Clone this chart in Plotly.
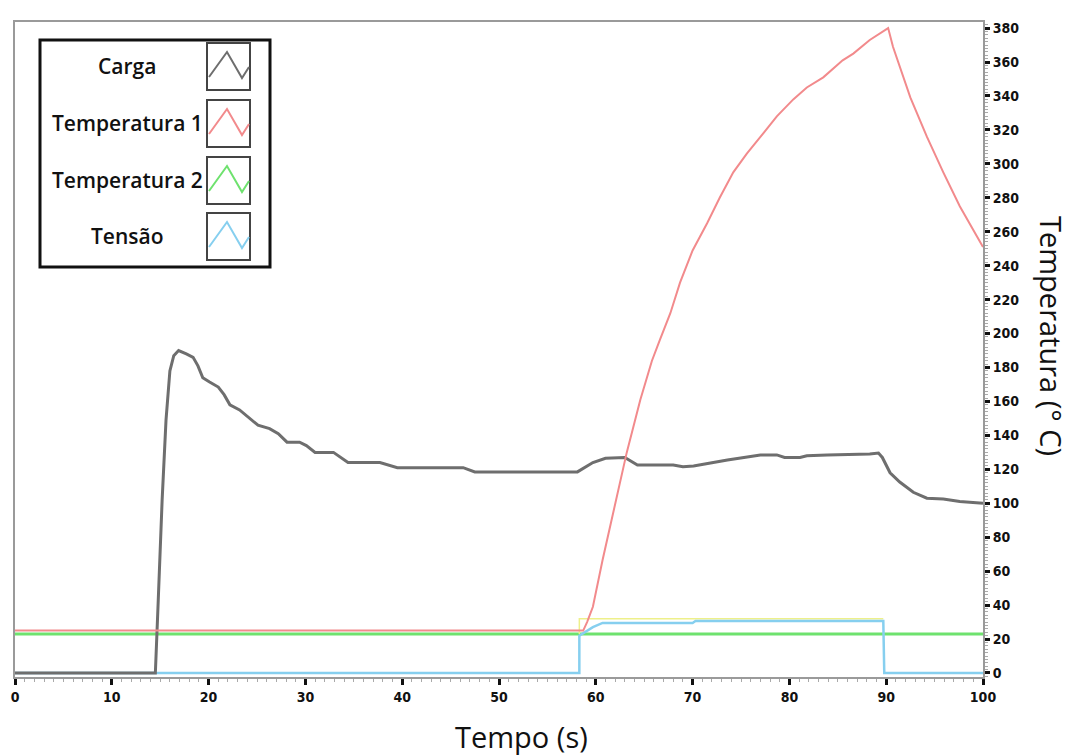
import plotly.graph_objects as go

# ---------------- data ----------------
series_names = ["Carga", "Temperatura 1", "Temperatura 2", "Tensão"]

t_carga = [0, 14.5, 14.8, 15.2, 15.6, 16.0, 16.4, 16.9, 17.7, 18.4, 18.9, 19.4, 20.1, 21.0, 21.6,
           22.2, 23.2, 24.3, 25.1, 26.3, 27.2, 28.1, 29.4, 30.1, 31.0, 32.9, 34.4, 37.7, 39.5,
           46.3, 47.5, 58.1, 59.7, 61.0, 63.0, 64.3, 68.0, 69.0, 70.1, 73.6, 77.0, 78.7, 79.5,
           81.1, 81.8, 83.9, 88.3, 89.2, 89.6, 90.4, 91.4, 92.8, 94.2, 95.9, 97.6, 100]
v_carga = [0, 0, 43, 102, 149, 178, 187, 190, 188, 186, 181, 174, 171.5, 168.5, 164,
           158, 155, 150, 146, 144, 141, 136, 136, 134, 130, 130, 124, 124, 121,
           121, 118.5, 118.5, 124, 126.5, 127, 122.5, 122.5, 121.5, 122, 125.5, 128.5, 128.5, 127,
           127, 128, 128.5, 129, 129.6, 127, 118, 112.5, 106.5, 103, 102.5, 101, 100]

t_temp1 = [0, 58.7, 59.1, 59.7, 60.7, 61.8, 63.2, 64.6, 65.8, 66.6, 67.7, 68.7, 70.0, 71.5, 72.8,
           74.2, 75.6, 77.3, 78.7, 80.4, 81.8, 83.5, 85.5, 86.6, 88.3, 90.2, 90.7, 92.5, 94.2,
           95.9, 97.6, 100]
v_temp1 = [25, 25, 30, 39, 66.6, 94, 130, 161, 184, 196, 212, 230, 249, 265, 280,
           295, 306, 318, 328, 338, 345, 351, 361, 365, 373, 380, 369, 339, 316,
           295, 275, 251]

t_temp2 = [0, 100]
v_temp2 = [23, 23]

t_tensao = [0, 58.3, 58.3, 58.6, 59.7, 60.7, 70.0, 70.3, 89.7, 89.8, 100]
v_tensao = [0, 0, 22, 23, 27, 29.5, 29.5, 30.6, 30.6, 0, 0]

# faint yellow trace visible just above Tensão in the reference
t_extra = [58.3, 58.3, 89.7]
v_extra = [23, 32, 32]

x_ticks = [0, 10, 20, 30, 40, 50, 60, 70, 80, 90, 100]
y_ticks = list(range(0, 381, 20))

colors = ["#6e6e6e", "#f28a8c", "#6ee26e", "#86cfef"]

# ---------------- layout geometry ----------------
W, H = 1071, 755
L, R, T, B = 15, 88, 22, 78
PW, PH = W - L - R, H - T - B


def px(x):
    return (x - L) / PW


def py(y):
    return (H - B - y) / PH


fig = go.Figure()

# draw order: green, extra, blue, carga, red
fig.add_trace(go.Scatter(x=t_temp2, y=v_temp2, mode="lines", name=series_names[2],
                         line=dict(color=colors[2], width=3), showlegend=False))
fig.add_trace(go.Scatter(x=t_extra, y=v_extra, mode="lines", name="",
                         line=dict(color="#eef08a", width=1.5), showlegend=False))
fig.add_trace(go.Scatter(x=t_tensao, y=v_tensao, mode="lines", name=series_names[3],
                         line=dict(color=colors[3], width=2.5), showlegend=False))
fig.add_trace(go.Scatter(x=t_carga, y=v_carga, mode="lines", name=series_names[0],
                         line=dict(color=colors[0], width=3), showlegend=False))
fig.add_trace(go.Scatter(x=t_temp1, y=v_temp1, mode="lines", name=series_names[1],
                         line=dict(color=colors[1], width=2), showlegend=False))

tick_font = dict(family="Liberation Sans Narrow, DejaVu Sans Condensed, Arial Narrow, sans-serif",
                 size=14, color="#111", weight="bold")

fig.update_xaxes(range=[0, 100], tickvals=x_ticks, ticktext=[str(v) for v in x_ticks],
                 automargin=False,
                 showgrid=False, zeroline=False, showline=True, linecolor="#9a9a9a", linewidth=2,
                 mirror=True, ticks="outside", ticklen=6, tickwidth=3, tickcolor="#111",
                 minor=dict(ticks="outside", dtick=1, ticklen=3, tickwidth=1, tickcolor="#aaa"),
                 tickfont=tick_font)
fig.update_yaxes(range=[-2.36, 383.6], tickvals=y_ticks, ticktext=[str(v) for v in y_ticks],
                 automargin=False,
                 side="right", showgrid=False, zeroline=False, showline=True, linecolor="#9a9a9a",
                 linewidth=2, mirror=True, ticks="outside", ticklen=5, tickwidth=3, tickcolor="#111",
                 minor=dict(ticks="outside", dtick=2, ticklen=3, tickwidth=1, tickcolor="#aaa"),
                 tickfont=tick_font)

shapes = []
annotations = []

# custom legend: outer box
shapes.append(dict(type="rect", xref="paper", yref="paper", x0=px(40), x1=px(270), y0=py(267), y1=py(40),
                   line=dict(color="#111", width=3), fillcolor="white", layer="above"))
row_tops = [43, 100, 157, 213]
for i, name in enumerate(series_names):
    top = row_tops[i]
    bot = top + 47
    shapes.append(dict(type="rect", xref="paper", yref="paper", x0=px(207), x1=px(250),
                       y0=py(bot), y1=py(top), line=dict(color="#444", width=2), layer="above"))
    zx = [209, 227, 242, 249]
    zy = [top + 34, top + 9, top + 35, top + 24]
    path = "M {} {} ".format(px(zx[0]), py(zy[0])) + " ".join(
        "L {} {}".format(px(a), py(b)) for a, b in zip(zx[1:], zy[1:]))
    shapes.append(dict(type="path", xref="paper", yref="paper", path=path,
                       line=dict(color=colors[i], width=2), layer="above"))
    annotations.append(dict(text=name, xref="paper", yref="paper", x=px(127), y=py(top + 23),
                            xanchor="center", yanchor="middle", showarrow=False,
                            font=dict(family="Open Sans, Noto Sans, sans-serif", size=21,
                                      color="#111", weight=600)))

# axis titles
annotations.append(dict(text="Tempo (s)", xref="paper", yref="paper", x=px(521), y=py(736),
                        xanchor="center", yanchor="middle", showarrow=False,
                        font=dict(family="Open Sans, Noto Sans, sans-serif", size=29, color="#111")))
annotations.append(dict(text="Temperatura (° C)", xref="paper", yref="paper", x=px(1051), y=py(336),
                        xanchor="center", yanchor="middle", showarrow=False, textangle=90,
                        font=dict(family="Open Sans, Noto Sans, sans-serif", size=29, color="#111")))

fig.update_layout(width=W, height=H, margin=dict(l=L, r=R, t=T, b=B, autoexpand=False),
                  paper_bgcolor="white", plot_bgcolor="white",
                  shapes=shapes, annotations=annotations, showlegend=False)

fig.write_html("out.html", config={"displayModeBar": False},
               post_script="document.body.style.margin='0';document.body.style.padding='0';"
                           "document.documentElement.style.overflow='hidden';")
